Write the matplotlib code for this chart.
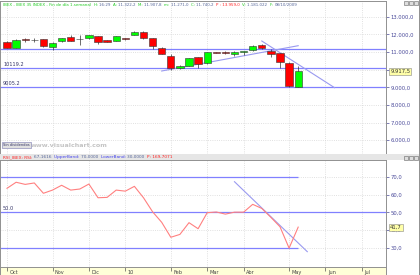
import matplotlib
matplotlib.use("Agg")
import matplotlib.pyplot as plt
import matplotlib.transforms as mtransforms
from matplotlib.patches import Rectangle
from matplotlib.offsetbox import TextArea, HPacker, AnchoredOffsetbox

# weekly candles, IBEX 35 (Oct 2009 - May 2010)
opens = [11556, 11249, 11720, 11690, 11743, 11289, 11613, 11874, 11743, 11783, 11914,
         11670, 11647, 11783, 11970, 12158, 11783, 11250, 10778, 10079, 10227, 10721,
         10363, 11000, 11022, 10908, 11030, 11102, 11403, 11079, 10931, 10397, 9034]
highs = [11630, 11720, 11780, 11820, 11770, 11550, 11810, 11950, 11990, 11990, 11940,
         11700, 11940, 11800, 12200, 12190, 11800, 11270, 10900, 10250, 10680, 10740,
         11000, 11030, 11060, 11050, 11080, 11380, 11440, 11150, 10960, 10420, 10200]
lows = [11210, 11220, 11590, 11556, 11300, 11119, 11590, 11620, 11400, 11760, 11440,
        11560, 11630, 11700, 11950, 11760, 11180, 10870, 9980, 10050, 10200, 10100,
        10300, 10950, 10900, 10800, 10850, 11080, 11190, 10700, 10080, 9005, 9000]
closes = [11249, 11687, 11680, 11700, 11363, 11516, 11783, 11647, 11750, 11953, 11556,
          11590, 11914, 11726, 12158, 11783, 11363, 10891, 10079, 10193, 10647, 10306,
          10988, 10970, 10931, 11022, 11040, 11346, 11215, 10874, 10454, 9050, 9917.5]

rsi = [63.5, 66.9, 65.7, 66.5, 60.7, 62.5, 65.2, 62.5, 63.1, 65.9, 58.2, 58.4, 62.5,
       61.9, 64.6, 58.2, 50.3, 44.4, 36.0, 37.6, 44.2, 40.8, 49.8, 50.2, 49.0, 50.1,
       50.1, 54.5, 52.2, 47.2, 41.9, 29.9, 41.7]

month_pos = [0, 5, 9, 13, 18, 22, 26, 31, 35, 39]
month_labels = ['Oct', 'Nov', 'Dic', '10', 'Feb', 'Mar', 'Abr', 'May', 'Jun', 'Jul']
price_ticks = [6000, 7000, 8000, 9000, 10000, 11000, 12000, 13000]
rsi_ticks = [30, 40, 50, 60, 70]

levels = [11200, 10119.2, 9005.2]
trend_up_x, trend_up_y = [17, 32], [9926, 11363]
trend_dn_x, trend_dn_y = [28, 36], [11630, 8977]
rsi_trend_x, rsi_trend_y = [25, 33], [67.2, 27.9]

W, H = 420, 275
fig = plt.figure(figsize=(W / 100, H / 100), dpi=100)
fig.patch.set_facecolor('white')


def box(x0, y0, x1, y1):
    return [x0 / W, 1 - y1 / H, (x1 - x0) / W, (y1 - y0) / H]


def fmt(v, nd=1):
    s = f"{v:,.{nd}f}"
    return s.replace(',', '#').replace('.', ',').replace('#', '.')


def colored_line(parts, x, y, size):
    areas = [TextArea(s, textprops=dict(color=c, fontsize=size)) for s, c in parts]
    pk = HPacker(children=areas, align='baseline', pad=0, sep=0)
    ab = AnchoredOffsetbox(loc='center left', child=pk, pad=0, borderpad=0, frameon=False,
                           bbox_to_anchor=(x / W, 1 - y / H),
                           bbox_transform=fig.transFigure)
    fig.add_artist(ab)


XLIM = (-0.77, 41.65)
blue = '#8080ff'
grid_c = '#d6d6d6'
lab_c = '#4a4a9a'
spine_c = '#909090'

# header strip between panels
fig.add_artist(Rectangle((0, 1 - 160 / H), 1, 6 / H, transform=fig.transFigure,
                         facecolor='#e6e6e6', edgecolor='none'))

ax1 = fig.add_axes(box(0, 1, 386, 154))
ax2 = fig.add_axes(box(0, 160, 386, 267))
ax3 = fig.add_axes(box(0, 267, 386, 275))

for ax in (ax1, ax2):
    ax.set_xlim(*XLIM)
    ax.set_xticks(month_pos)
    ax.tick_params(axis='x', length=0, labelbottom=False)
    ax.grid(True, color=grid_c, ls=':', lw=0.6)
    ax.set_axisbelow(True)
    ax.yaxis.tick_right()
    ax.tick_params(axis='y', direction='out', length=2, width=0.5, color=lab_c,
                   labelsize=3.8, labelcolor=lab_c, pad=1)
    for s in ax.spines.values():
        s.set_color(spine_c)
        s.set_linewidth(0.7)

# price panel (the 10.000,0 label sits under the last-value box)
ax1.set_ylim(5211, 13902)
ax1.set_yticks(price_ticks)
ax1.set_yticklabels(['' if v == 10000 else fmt(v) for v in price_ticks])
for v in levels:
    ax1.axhline(v, color=blue, lw=0.9, zorder=2)
ax1.plot(trend_up_x, trend_up_y, color='#9a9af0', lw=0.8, zorder=2)
ax1.plot(trend_dn_x, trend_dn_y, color='#9a9af0', lw=0.8, zorder=2)
for i, (o, h, l, c) in enumerate(zip(opens, highs, lows, closes)):
    col = '#00ff00' if c >= o else '#ff0000'
    ax1.vlines(i, l, h, color='#333333', lw=0.5, zorder=3)
    ax1.bar(i, max(abs(c - o), 12), bottom=min(o, c), width=0.8, color=col,
            edgecolor='#333333', lw=0.4, zorder=4)
btf = mtransforms.blended_transform_factory(ax1.transAxes, ax1.transData)
ax1.text(0.008, 10119.2 + 60, '10119.2', transform=btf, fontsize=3.6, color='#333366',
         va='bottom')
ax1.text(0.008, 9005.2 + 60, '9005.2', transform=btf, fontsize=3.6, color='#333366',
         va='bottom')
ax1.annotate(fmt(closes[-1]), xy=(1, closes[-1]), xycoords=btf, xytext=(3, 0),
             textcoords='offset points', fontsize=3.8, color='#333333', va='center',
             bbox=dict(boxstyle='square,pad=0.2', fc='#ffffa8', ec='#888888', lw=0.4))
ax1.text(0.08, 0.04, 'www.visualchart.com', transform=ax1.transAxes, fontsize=4.6,
         color='#c4c4c4', fontweight='bold', va='bottom')
ax1.text(0.009, 0.045, 'Sin dividendos', transform=ax1.transAxes, fontsize=2.6,
         color='#333366', va='bottom',
         bbox=dict(boxstyle='square,pad=0.3', fc='#e0e0e0', ec='#7a7ab0', lw=0.4))

# RSI panel
ax2.set_ylim(19.3, 79.4)
ax2.set_yticks(rsi_ticks)
ax2.set_yticklabels([fmt(v) for v in rsi_ticks])
ax2.axhline(50, color=blue, lw=0.9, zorder=2)
ax2.hlines([70, 30], XLIM[0], len(rsi) - 1, color=blue, lw=0.9, zorder=2)
ax2.plot(rsi_trend_x, rsi_trend_y, color='#9a9af0', lw=0.8, zorder=2)
ax2.plot(range(len(rsi)), rsi, color='#ff8080', lw=0.8, zorder=3)
btf2 = mtransforms.blended_transform_factory(ax2.transAxes, ax2.transData)
ax2.text(0.008, 51, '50.0', transform=btf2, fontsize=3.6, color='#333366', va='bottom')
ax2.annotate(fmt(rsi[-1]), xy=(1, rsi[-1]), xycoords=btf2, xytext=(3, 0),
             textcoords='offset points', fontsize=3.8, color='#333333', va='center',
             bbox=dict(boxstyle='square,pad=0.2', fc='#ffffa8', ec='#888888', lw=0.4))

# month strip
ax3.set_xlim(*XLIM)
ax3.set_ylim(0, 1)
ax3.set_facecolor('#ffffd8')
ax3.set_xticks([])
ax3.set_yticks([])
for s in ax3.spines.values():
    s.set_color(spine_c)
    s.set_linewidth(0.7)
ax3.vlines(month_pos, 0.45, 1, color='#555555', lw=0.5)
for p, lab in zip(month_pos, month_labels):
    ax3.text(p + 0.25, 0.3, lab, fontsize=3.6, color='#444444', va='center', ha='left')

# header texts
g, v, r, b = '#22cc22', '#556699', '#ff2222', '#4444ee'
colored_line([('IBEX - IBEX 35 INDEX - Fin de día 1.semanal  ', g), ('H: ', g), ('16:29  ', v),
              ('A: ', g), ('11.322,2  ', v), ('M: ', g), ('11.907,8  ', v),
              ('m: ', g), ('11.271,0  ', v), ('C: ', g), ('11.740,2  ', v),
              ('P : 13.959,0  ', r), ('V: ', g), ('1.181.022  ', v), ('F: ', g),
              ('08/10/2009', v)], 3, 5, 2.85)
colored_line([('RSI_IBEX: RSI: ', r), ('67,1616  ', v), ('UpperBand: ', b), ('70,0000  ', v),
              ('LowerBand: ', b), ('30,0000  ', v), ('P: 169,7071', r)], 3, 157, 3.05)

# window buttons
for yy in (0.5, 155.5):
    for k in range(3):
        fig.add_artist(Rectangle(((404 + 5 * k) / W, 1 - (yy + 4.5) / H), 4 / W, 4 / H,
                                 transform=fig.transFigure, facecolor='#dddddd',
                                 edgecolor='#666666', lw=0.4))

# outer frame on the right
fig.add_artist(plt.Line2D([418.5 / W, 418.5 / W], [0, 1], transform=fig.transFigure,
                          color=spine_c, lw=0.7))

fig.savefig('out.png', dpi=100)
